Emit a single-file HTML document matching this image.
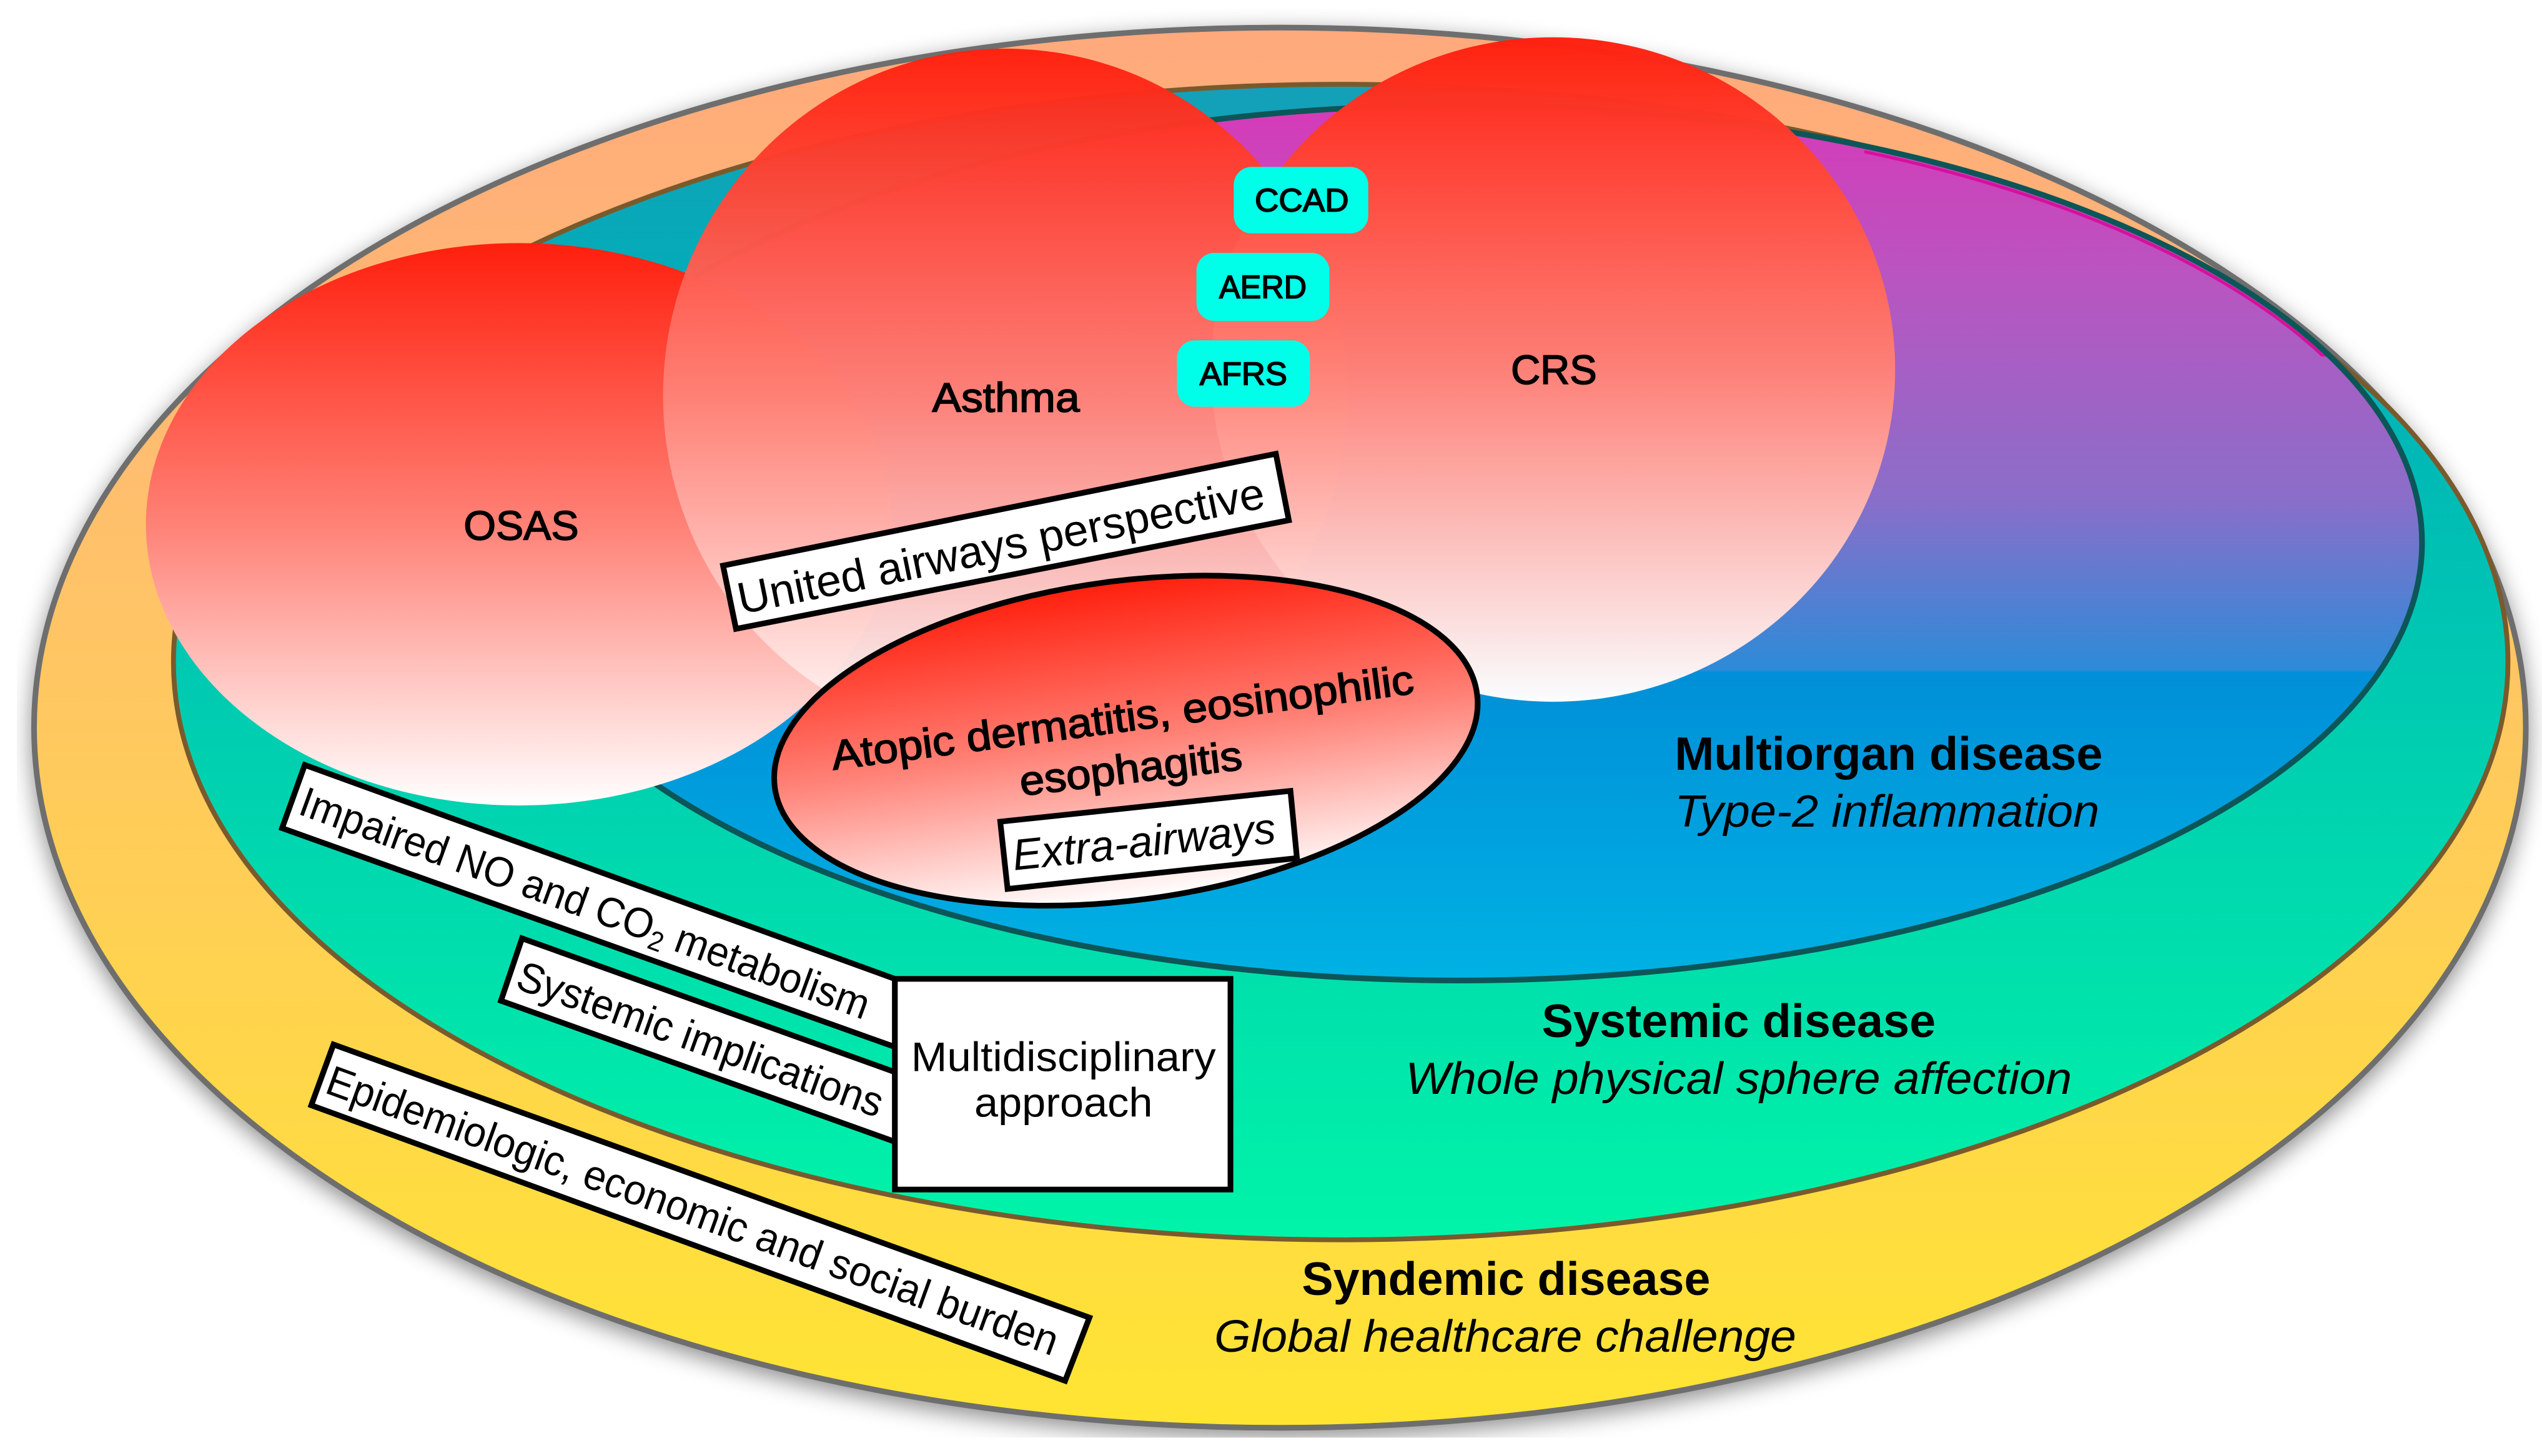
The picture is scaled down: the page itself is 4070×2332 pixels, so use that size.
<!DOCTYPE html>
<html><head><meta charset="utf-8"><style>
html,body{margin:0;padding:0;background:#fff}
svg{display:block}
text{font-family:"Liberation Sans",sans-serif;fill:#000}
.m{stroke:#000;stroke-width:.65}
.b{font-weight:bold;font-size:29px}
.i{font-style:italic;font-size:28px}
.t{font-size:26px}
</style></head><body>
<svg width="4070" height="2332" viewBox="0 0 1568 898.4" xmlns="http://www.w3.org/2000/svg">
<defs>
<linearGradient id="o" gradientUnits="userSpaceOnUse" x1="0" y1="17" x2="0" y2="881"><stop offset="0" stop-color="#ffa97c"/><stop offset=".3" stop-color="#ffbd70"/><stop offset=".72" stop-color="#ffd54c"/><stop offset="1" stop-color="#ffe532"/></linearGradient>
<linearGradient id="s" gradientUnits="userSpaceOnUse" x1="0" y1="52" x2="0" y2="765"><stop offset="0" stop-color="#14a0b8"/><stop offset=".2" stop-color="#00aeb8"/><stop offset="1" stop-color="#00f4a8"/></linearGradient>
<linearGradient id="m" gradientUnits="userSpaceOnUse" x1="0" y1="65" x2="0" y2="605"><stop offset="0" stop-color="#d63ab8"/><stop offset=".2" stop-color="#b955c0"/><stop offset=".45" stop-color="#8a6ec9"/><stop offset=".645" stop-color="#2d8bd8"/><stop offset=".648" stop-color="#008fd8"/><stop offset="1" stop-color="#00b2e4"/></linearGradient>
<linearGradient id="r" x1="0" y1="0" x2="0" y2="1"><stop offset="0" stop-color="#ff1f0d"/><stop offset=".5" stop-color="#ff8176"/><stop offset="1" stop-color="#ffffff"/></linearGradient>
<filter id="sh" filterUnits="userSpaceOnUse" x="10.5" y="0" width="1557.5" height="887"><feDropShadow dx="0" dy="4" stdDeviation="7" flood-color="#000" flood-opacity=".45"/></filter>
<clipPath id="cp"><rect x="1150" y="60" width="285" height="160"/></clipPath>
</defs>
<rect width="1568" height="898.4" fill="#fff"/>
<ellipse cx="789.5" cy="449" rx="768.5" ry="432" fill="url(#o)" stroke="#6e6e6e" stroke-width="3.5" filter="url(#sh)"/>
<ellipse cx="827" cy="408.5" rx="720" ry="356.5" fill="url(#s)" stroke="#7a5a2c" stroke-width="3"/>
<ellipse cx="900" cy="335" rx="594" ry="270" fill="url(#m)" stroke="#0c5658" stroke-width="3.5"/>
<ellipse cx="900" cy="337.500" rx="593" ry="269" fill="none" stroke="#d6109c" stroke-width="2" clip-path="url(#cp)"/>
<ellipse cx="320" cy="323.500" rx="230" ry="173.500" fill="url(#r)"/>
<ellipse cx="620" cy="244" rx="211" ry="214" fill="url(#r)" opacity=".97"/>
<ellipse cx="958" cy="228" rx="211" ry="205" fill="url(#r)" opacity=".98"/>
<text class="m" x="286" y="333" font-size="25.500" textLength="71" lengthAdjust="spacingAndGlyphs">OSAS</text>
<text class="m" x="575" y="254" font-size="25.500" textLength="91" lengthAdjust="spacingAndGlyphs">Asthma</text>
<text class="m" x="932" y="237" font-size="25.500" textLength="53" lengthAdjust="spacingAndGlyphs">CRS</text>
<g fill="#00ffe9">
<rect x="761" y="103" width="83" height="41" rx="11"/>
<rect x="738" y="156" width="82" height="42" rx="11"/>
<rect x="726" y="210" width="82" height="41" rx="11"/>
</g>
<text class="m" x="774" y="130.500" font-size="20" textLength="58" lengthAdjust="spacingAndGlyphs">CCAD</text>
<text class="m" x="752" y="184" font-size="20" textLength="54" lengthAdjust="spacingAndGlyphs">AERD</text>
<text class="m" x="740" y="237.500" font-size="20" textLength="54" lengthAdjust="spacingAndGlyphs">AFRS</text>
<polygon points="446,349 787,280 795,321 454,388" fill="#fff" stroke="#000" stroke-width="3.500"/>
<text transform="translate(457 379) rotate(-11.500)" font-size="27.500" textLength="331" lengthAdjust="spacingAndGlyphs">United airways perspective</text>
<g transform="rotate(-7.600 694.500 457)">
<ellipse cx="694.500" cy="457" rx="218.500" ry="98.500" fill="url(#r)" stroke="#000" stroke-width="3.500"/>
</g>
<text class="m" transform="translate(514 475) rotate(-7.500)" font-size="25.500" textLength="362" lengthAdjust="spacingAndGlyphs">Atopic dermatitis, eosinophilic</text>
<text class="m" transform="translate(630 491) rotate(-6.800)" font-size="25.500" textLength="138" lengthAdjust="spacingAndGlyphs">esophagitis</text>
<polygon points="617,507 796,488 800,529.500 621.500,548.500" fill="#fff" stroke="#000" stroke-width="3.500"/>
<text class="i" transform="translate(625.500 537) rotate(-6)" style="font-size:27px" textLength="163" lengthAdjust="spacingAndGlyphs">Extra-airways</text>
<polygon points="188,472 552,604 552,646 174,511" fill="#fff" stroke="#000" stroke-width="3.500"/>
<text class="t" transform="translate(183 502) rotate(20)" textLength="372" lengthAdjust="spacingAndGlyphs">Impaired NO and CO<tspan font-size="17" dy="4">2</tspan><tspan dy="-4"> metabolism</tspan></text>
<polygon points="322,579 552,661.500 552,704.500 309,617.500" fill="#fff" stroke="#000" stroke-width="3.500"/>
<text class="t" transform="translate(317 609.500) rotate(19.700)" textLength="238" lengthAdjust="spacingAndGlyphs">Systemic implications</text>
<polygon points="205.700,644.500 672,813 657,852 192,682" fill="#fff" stroke="#000" stroke-width="3.500"/>
<text class="t" transform="translate(199.500 674) rotate(19.900)" textLength="478" lengthAdjust="spacingAndGlyphs">Epidemiologic, economic and social burden</text>
<rect x="552" y="604" width="207" height="130" fill="#fff" stroke="#000" stroke-width="3.500"/>
<text x="562" y="661" font-size="25.500" textLength="188" lengthAdjust="spacingAndGlyphs">Multidisciplinary</text>
<text x="601" y="689" font-size="25.500" textLength="110" lengthAdjust="spacingAndGlyphs">approach</text>
<text class="b" x="1033" y="475" textLength="264" lengthAdjust="spacingAndGlyphs">Multiorgan disease</text>
<text class="i" x="1033" y="510" textLength="262" lengthAdjust="spacingAndGlyphs">Type-2 inflammation</text>
<text class="b" x="951" y="640" textLength="243" lengthAdjust="spacingAndGlyphs">Systemic disease</text>
<text class="i" x="867" y="675" textLength="411" lengthAdjust="spacingAndGlyphs">Whole physical sphere affection</text>
<text class="b" x="803" y="799" textLength="252" lengthAdjust="spacingAndGlyphs">Syndemic disease</text>
<text class="i" x="749" y="834" textLength="359" lengthAdjust="spacingAndGlyphs">Global healthcare challenge</text>
</svg>
</body></html>
